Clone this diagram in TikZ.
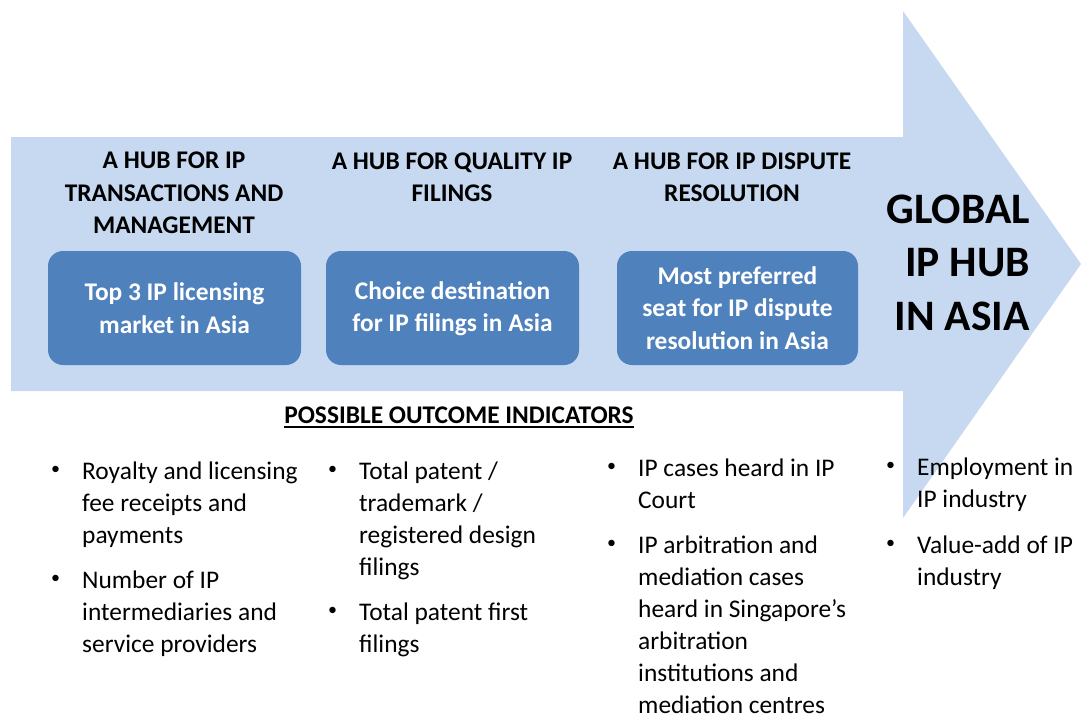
\documentclass[tikz,border=0pt]{standalone}
\usepackage{fontspec}
\setmainfont{Carlito}
\definecolor{arrowblue}{HTML}{C6D9F1}
\definecolor{boxblue}{HTML}{4F81BD}
\newcommand{\itembul}{\llap{\makebox[53pt]{\raisebox{4.5pt}{\fontsize{18}{18}\selectfont\textbullet}}}}

\begin{document}
\begin{tikzpicture}
[x=1pt,y=-1pt,
 hubhead/.style={font=\bfseries\fontsize{25.4}{32.3}\selectfont,align=center,inner sep=0pt,anchor=base},
 goalbox/.style={rectangle,rounded corners=15pt,fill=boxblue,text=white,inner sep=0pt,minimum height=114pt,
                 font=\bfseries\fontsize{25.4}{32.5}\selectfont,align=center},
 target/.style={font=\bfseries\fontsize{43.5}{53.5}\selectfont,align=right,inner sep=0pt,anchor=base east},
 indicator/.style={font=\fontsize{25.4}{32}\selectfont,align=left,inner sep=0pt,anchor=base west}]
\useasboundingbox (0,0) rectangle (1081,720);
\fill[arrowblue] (11,137) -- (903,137) -- (903,11) -- (1081,264) -- (903,518) -- (903,391) -- (11,391) -- cycle;
% base anchors sit on the last line
\node[hubhead] (hub1) at (174,233.5) {A HUB FOR IP\\TRANSACTIONS AND\\MANAGEMENT};
\node[hubhead] (hub2) at (452,201.5) {A HUB FOR QUALITY IP\\FILINGS};
\node[hubhead] (hub3) at (732,201.5) {A HUB FOR IP DISPUTE\\RESOLUTION};
\node[goalbox,minimum width=253pt] (goal1) at (174.5,308) {Top 3 IP licensing\\market in Asia};
\node[goalbox,minimum width=253pt,text depth=3pt] (goal2) at (452.5,308) {Choice destination\\for IP filings in Asia};
\node[goalbox,minimum width=241pt] (goal3) at (737.5,308) {Most preferred\\seat for IP dispute\\resolution in Asia};
\node[target] (hub) at (1030,330) {GLOBAL\\IP HUB\\IN ASIA};
\node[hubhead] (outhead) at (459,423) {POSSIBLE OUTCOME INDICATORS};
\draw[line width=1.5pt] ([yshift=-4pt]outhead.base west) -- ([yshift=-4pt]outhead.base east);
\node[indicator] (ind1) at (82,652)
  {\itembul Royalty and licensing\\fee receipts and\\payments\\[13pt]\itembul Number of IP\\intermediaries and\\service providers};
\node[indicator] (ind2) at (359,652)
  {\itembul Total patent /\\trademark /\\registered design\\filings\\[13pt]\itembul Total patent first\\filings};
\node[indicator] (ind3) at (638,713)
  {\itembul IP cases heard in IP\\Court\\[13pt]\itembul IP arbitration and\\mediation cases\\heard in Singapore’s\\arbitration\\institutions and\\mediation centres};
\node[indicator] (ind4) at (917,585)
  {\itembul Employment in\\IP industry\\[14pt]\itembul Value-add of IP\\industry};
\end{tikzpicture}
\end{document}
